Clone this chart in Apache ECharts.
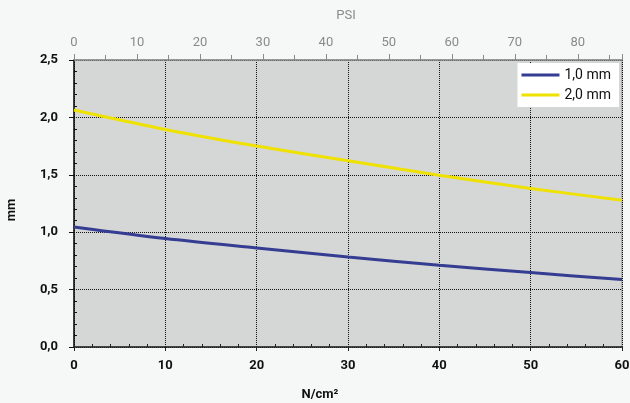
<!DOCTYPE html>
<html>
<head>
<meta charset="utf-8">
<script src="https://cdn.jsdelivr.net/npm/echarts@6/dist/echarts.min.js"></script>
<style>
html,body{margin:0;padding:0;background:#f6f8f8;}
#c{width:630px;height:403px;}
</style>
</head>
<body>
<div id="c"></div>
<script>
const pressureNcm2 = [0, 10, 20, 30, 40, 50, 60];
const gap1mm = [1.046, 0.945, 0.863, 0.784, 0.712, 0.648, 0.587];
const gap2mm = [2.064, 1.895, 1.750, 1.622, 1.497, 1.381, 1.279];
const seriesNames = ['1,0 mm', '2,0 mm'];
const psiMax = 60 * 1.450377; // 60 N/cm² in PSI

const chart = echarts.init(document.getElementById('c'));
const font = 'Roboto, "DejaVu Sans", sans-serif';

chart.setOption({
  animation: false,
  backgroundColor: '#f6f8f8',
  textStyle: { fontFamily: font },
  grid: {
    left: 74, right: 8, top: 60, bottom: 56,
    show: true, backgroundColor: '#d5d6d6', borderColor: '#8a8a8a', borderWidth: 1,
    containLabel: false, outerBoundsMode: 'none'
  },
  legend: {
    right: 11, top: 63,
    orient: 'vertical',
    backgroundColor: '#ffffff',
    padding: [5, 8, 5, 4],
    itemGap: 6,
    itemWidth: 38, itemHeight: 3,
    icon: 'rect',
    textStyle: { fontSize: 14, color: '#111', fontFamily: font },
    data: seriesNames
  },
  xAxis: [
    {
      type: 'value', position: 'bottom', min: 0, max: 60, interval: 10,
      axisLine: { onZero: false, lineStyle: { color: '#222', width: 1.5 } },
      axisTick: { show: true, length: 4, lineStyle: { color: '#222' } },
      axisLabel: { color: '#111', fontSize: 13, fontWeight: 'bold', margin: 12, fontFamily: font },
      splitLine: { show: true, lineStyle: { color: '#111', type: [1, 1], width: 1 } }
    },
    {
      type: 'value', position: 'top', min: 0, max: psiMax, interval: 10,
      axisLine: { onZero: false, lineStyle: { color: '#8a8a8a', width: 1.5 } },
      axisTick: { show: true, length: 6, lineStyle: { color: '#8a8a8a' } },
      minorTick: { show: true, splitNumber: 2, length: 5, lineStyle: { color: '#8a8a8a' } },
      axisLabel: {
        color: '#8a8a8a', fontSize: 13, margin: 11, fontFamily: font,
        showMaxLabel: false
      },
      splitLine: { show: false }
    },
    {
      type: 'value', position: 'bottom', min: 0, max: 60, interval: 10,
      axisLine: { show: false, onZero: false },
      axisTick: { show: false, inside: true },
      minorTick: { show: true, splitNumber: 5, length: 3, lineStyle: { color: '#222' } },
      axisLabel: { show: false },
      splitLine: { show: false }
    }
  ],
  yAxis: [
    {
      type: 'value', position: 'left', min: 0, max: 2.5, interval: 0.5,
      axisLine: { show: true, onZero: false, lineStyle: { color: '#111', width: 1.5 } },
      axisTick: { show: true, length: 5, lineStyle: { color: '#111' } },
      axisLabel: {
        color: '#111', fontSize: 13, fontWeight: 'bold', margin: 16, fontFamily: font,
        formatter: v => v.toFixed(1).replace('.', ',')
      },
      splitLine: { show: true, lineStyle: { color: '#111', type: [1, 1], width: 1 } }
    },
    {
      type: 'value', position: 'left', min: 0, max: 2.5, interval: 0.5,
      axisLine: { show: false, onZero: false },
      axisTick: { show: false, inside: true },
      minorTick: { show: true, splitNumber: 5, length: 3, lineStyle: { color: '#111' } },
      axisLabel: { show: false },
      splitLine: { show: false }
    }
  ],
  graphic: [
    { type: 'text', x: 346, y: 16, style: { text: 'PSI', fill: '#8a8a8a', font: '13px ' + font, textAlign: 'center', textVerticalAlign: 'middle' } },
    { type: 'text', x: 320, y: 395, style: { text: 'N/cm²', fill: '#111', font: 'bold 13px ' + font, textAlign: 'center', textVerticalAlign: 'middle' } },
    { type: 'text', x: 12, y: 210, rotation: Math.PI / 2, style: { text: 'mm', fill: '#111', font: 'bold 13px ' + font, textAlign: 'center', textVerticalAlign: 'middle' } }
  ],
  series: [
    {
      name: seriesNames[0], type: 'line', xAxisIndex: 0, yAxisIndex: 0,
      data: pressureNcm2.map((x, i) => [x, gap1mm[i]]),
      smooth: 0.3, showSymbol: false, symbol: 'none',
      lineStyle: { color: '#353d93', width: 3 }, itemStyle: { color: '#353d93' }
    },
    {
      name: seriesNames[1], type: 'line', xAxisIndex: 0, yAxisIndex: 0,
      data: pressureNcm2.map((x, i) => [x, gap2mm[i]]),
      smooth: 0.3, showSymbol: false, symbol: 'none',
      lineStyle: { color: '#efe100', width: 3 }, itemStyle: { color: '#efe100' }
    }
  ]
});
</script>
</body>
</html>
